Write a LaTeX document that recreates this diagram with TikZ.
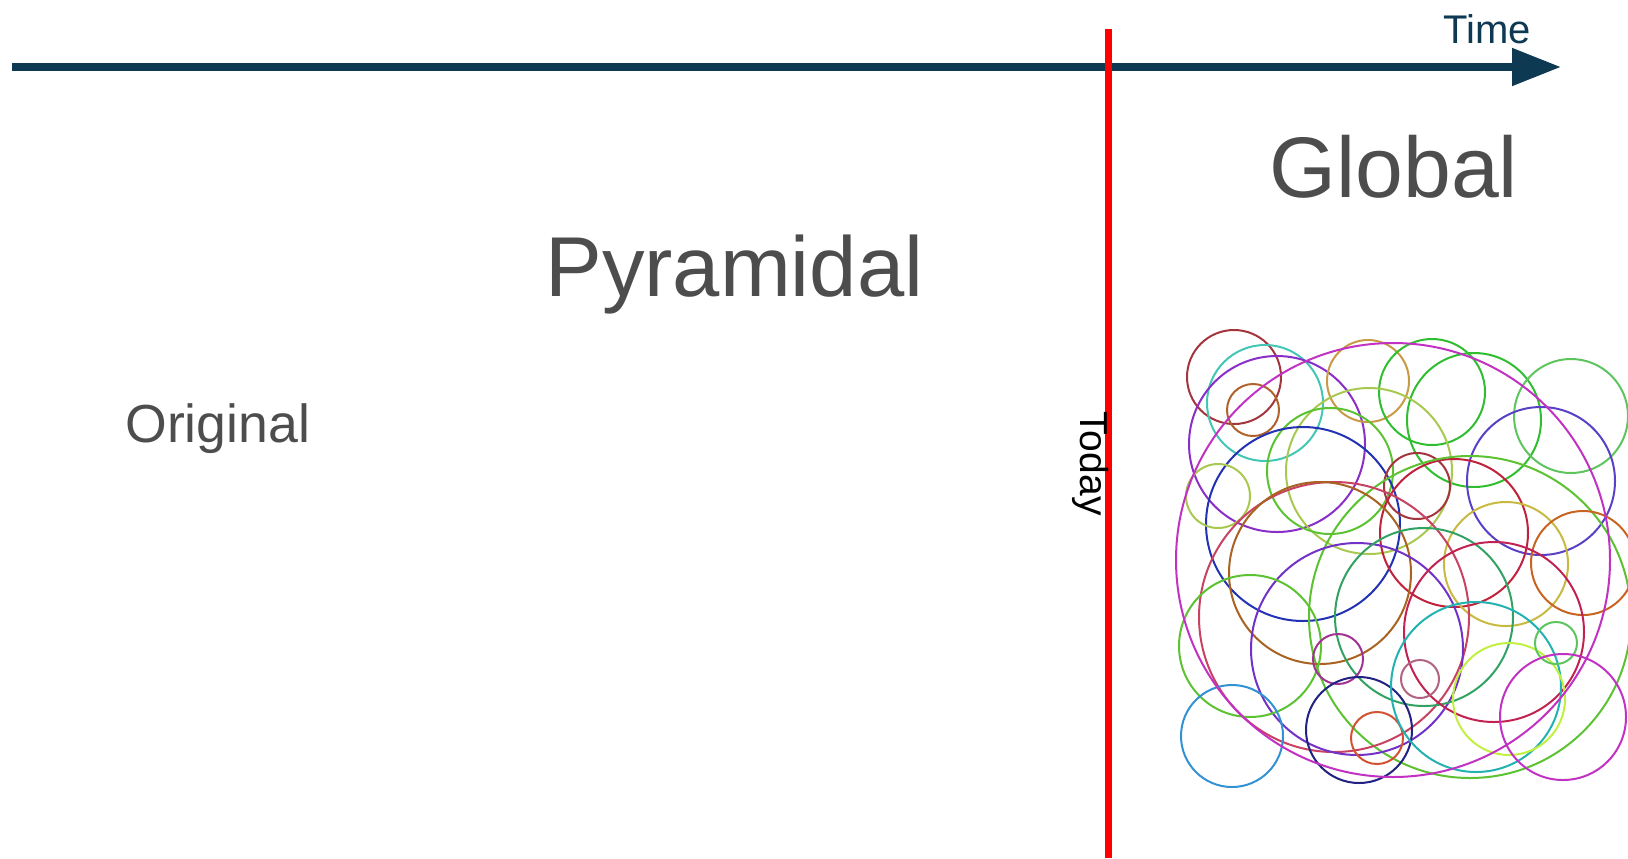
\documentclass[tikz,border=0pt]{standalone}
\usepackage{xcolor}
\usepackage{fontspec}
\setmainfont{Liberation Sans}
\usepackage{tikz}
\usetikzlibrary{arrows.meta,positioning}
\definecolor{axisnavy}{HTML}{0D3A52}
\definecolor{labelgray}{HTML}{4D4D4D}
\definecolor{todayred}{HTML}{FF0000}
% ring colours
\definecolor{ringmaroon}{HTML}{A3353D}
\definecolor{ringteal}{HTML}{44C6B6}
\definecolor{ringbrown}{HTML}{B0622C}
\definecolor{ringviolet}{HTML}{8A2EC8}
\definecolor{ringmagenta}{HTML}{C232C2}
\definecolor{ringtan}{HTML}{C89A44}
\definecolor{ringgreen}{HTML}{30BE30}
\definecolor{ringleaf}{HTML}{5EC45E}
\definecolor{ringslate}{HTML}{5A40C6}
\definecolor{ringolive}{HTML}{A8C850}
\definecolor{ringlime}{HTML}{5CC232}
\definecolor{ringblue}{HTML}{2232B2}
\definecolor{ringred}{HTML}{C0223C}
\definecolor{ringyellow}{HTML}{C8BA40}
\definecolor{ringorange}{HTML}{C86422}
\definecolor{ringrose}{HTML}{C84262}
\definecolor{ringrust}{HTML}{A86222}
\definecolor{ringpurple}{HTML}{7232C8}
\definecolor{ringsea}{HTML}{32A262}
\definecolor{ringcrimson}{HTML}{C22252}
\definecolor{ringsky}{HTML}{3292D2}
\definecolor{ringplum}{HTML}{A23292}
\definecolor{ringnavy}{HTML}{222282}
\definecolor{ringcoral}{HTML}{D25232}
\definecolor{ringcyan}{HTML}{22B2B2}
\definecolor{ringpink}{HTML}{B26282}
\definecolor{ringchartreuse}{HTML}{C2F042}

\begin{document}
\begin{tikzpicture}[
  x=0.5pt, y=-0.5pt,
  timeaxis/.style={-{Triangle[length=24.5pt,width=18pt]},line width=4pt,draw=axisnavy},
  todayline/.style={line width=3.5pt,draw=todayred},
  phase/.style={inner sep=0pt,anchor=base west,text=labelgray},
  ring/.style={line width=1pt}
]
\useasboundingbox (0,0) rectangle (1628,858);

% time axis and today marker
\coordinate (axisstart) at (12,67);
\coordinate (axisend) at (1561,67);
\coordinate (todaytop) at (1108,29);
\coordinate (todaybottom) at (1108,858);
\draw[timeaxis] (axisstart) -- (axisend);
\draw[todayline] (todaytop) -- (todaybottom);

\node[inner sep=0pt,anchor=base west,text=axisnavy,font=\fontsize{20}{24}\selectfont] (time) at (1443,43) {Time};
\node[inner sep=0pt,anchor=base west,rotate=-90,font=\fontsize{19.5}{23}\selectfont] (today) at (1080,411) {Today};

% phases
\node[phase,font=\fontsize{26.8}{32}\selectfont] (original) at (125,442) {Original};
\node[phase,font=\fontsize{42.5}{51}\selectfont] (pyramidal) at (545,296) {Pyramidal};
\node[phase,font=\fontsize{43}{52}\selectfont] (global) at (1269,197) {Global};

% tangle of rings
\foreach \cx/\cy/\r/\col in {
  1234/377/47/ringmaroon, 1265/403/58/ringteal, 1253/410/26/ringbrown,
  1277/444/88/ringviolet, 1368/381/41/ringtan, 1432/392/53/ringgreen,
  1474/420/67/ringgreen, 1571/416/57/ringleaf, 1541/481/74/ringslate,
  1369/471/83/ringolive, 1330/471/63/ringlime, 1303/524/97/ringblue,
  1218/496/32/ringolive, 1417/486/33/ringmaroon, 1454/533/74/ringred,
  1470/617/161/ringlime, 1506/564/62/ringyellow, 1583/563/52/ringorange,
  1334/617/135/ringrose, 1320/573/91/ringrust, 1357/649/106/ringpurple,
  1424/617/89/ringsea, 1494/632/90/ringcrimson, 1250/646/71/ringlime,
  1232/736/51/ringsky, 1338/659/25/ringplum, 1359/730/53/ringnavy,
  1377/738/26/ringcoral, 1476/687/85/ringcyan, 1420/679/19/ringpink,
  1509/699/56/ringchartreuse, 1556/643/21/ringleaf, 1563/717/63/ringmagenta,
  1393/560/217/ringmagenta}
  \draw[ring,draw=\col] (\cx,\cy) circle (\r);
\end{tikzpicture}
\end{document}
